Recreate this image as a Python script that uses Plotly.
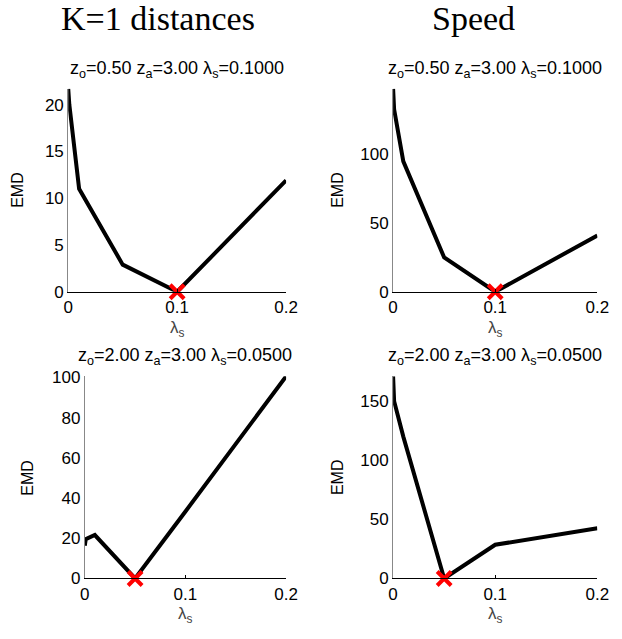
import plotly.graph_objects as go

lam = [0, 0.001, 0.01, 0.05, 0.1, 0.2]
emd_k1_top = [21.7, 20.0, 11.0, 2.9, 0.0, 11.9]
emd_speed_top = [148, 133, 95, 25, 0, 41]
emd_k1_bot = [16.3, 19.5, 21.6, 0.0, 33.3, 100.5]
emd_speed_bot = [171, 150, 120, 0, 28.5, 42.5]
best = [(0.1, 0.0), (0.1, 0.0), (0.05, 0.0), (0.05, 0.0)]
col_titles = ["K=1 distances", "Speed"]
sub_titles = ["z<sub>o</sub>=0.50 z<sub>a</sub>=3.00 λ<sub>s</sub>=0.1000",
              "z<sub>o</sub>=0.50 z<sub>a</sub>=3.00 λ<sub>s</sub>=0.1000",
              "z<sub>o</sub>=2.00 z<sub>a</sub>=3.00 λ<sub>s</sub>=0.0500",
              "z<sub>o</sub>=2.00 z<sub>a</sub>=3.00 λ<sub>s</sub>=0.0500"]
ytick_sets = [[0, 5, 10, 15, 20], [0, 50, 100], [0, 20, 40, 60, 80, 100], [0, 50, 100, 150]]
xticks = [0, 0.1, 0.2]

W, H = 622, 639
series = [emd_k1_top, emd_speed_top, emd_k1_bot, emd_speed_bot]
# pixel boxes (left, right, top, bottom)
boxes = [(65, 289, 83, 292), (399, 609, 83, 292), (82, 289, 379, 587), (399, 609, 379, 587)]
ylab_x = [13, 342, 23, 342]

fig = go.Figure()
font = dict(family="Liberation Sans, Arial", size=17, color="black")
tfont = dict(family="Liberation Sans, Arial", size=18, color="black")
ann = []
for i, ys in enumerate(series):
    n = i + 1
    xa = "x" if n == 1 else f"x{n}"
    ya = "y" if n == 1 else f"y{n}"
    fig.add_trace(go.Scatter(x=lam, y=ys, mode="lines", line=dict(color="black", width=4),
                             xaxis=xa, yaxis=ya, showlegend=False, cliponaxis=False))
    fig.add_trace(go.Scatter(x=[best[i][0]], y=[best[i][1]], mode="markers",
                             marker=dict(symbol="x-thin", size=14, line=dict(color="red", width=4)),
                             xaxis=xa, yaxis=ya, showlegend=False, cliponaxis=False))
    l, r, t, b = boxes[i]
    xk = "xaxis" if n == 1 else f"xaxis{n}"
    yk = "yaxis" if n == 1 else f"yaxis{n}"
    fig.layout[xk] = dict(domain=[l / W, r / W], range=[0, 0.2], tickvals=xticks,
                          ticktext=["0", "0.1", "0.2"], showline=True, linecolor="black",
                          linewidth=1, ticks="inside", ticklen=3, tickcolor="black",
                          showgrid=False, zeroline=False, tickfont=font, anchor=ya)
    fig.layout[yk] = dict(domain=[1 - b / H, 1 - t / H], range=[0, max(ys)], tickvals=ytick_sets[i],
                          showline=True, linecolor="#888888", linewidth=1, ticks="",
                          showgrid=False, zeroline=False, tickfont=font, anchor=xa)
    cx = (l + r) / 2
    ann.append(dict(x=cx / W, y=1 - (t - 20) / H, xref="paper", yref="paper", text=sub_titles[i],
                    showarrow=False, font=tfont, xanchor="center", yanchor="middle"))
    ann.append(dict(x=ylab_x[i] / W, y=1 - ((t + b) / 2) / H, xref="paper", yref="paper", text="EMD",
                    showarrow=False, font=dict(family="Liberation Sans, Arial", size=16, color="black"),
                    textangle=-90, xanchor="center", yanchor="middle"))
    ann.append(dict(x=cx / W, y=1 - (b + 38) / H, xref="paper", yref="paper", text="λ<sub>s</sub>",
                    showarrow=False, font=dict(family="Liberation Sans, Arial", size=17, color="#444444"),
                    xanchor="center", yanchor="middle"))

for txt, cx in zip(col_titles, [157, 482]):
    ann.append(dict(x=cx / W, y=1 - 11 / H, xref="paper", yref="paper", text=txt, showarrow=False,
                    font=dict(family="Liberation Serif", size=34, color="black"),
                    xanchor="center", yanchor="middle"))

fig.update_layout(width=W, height=H, margin=dict(l=0, r=0, t=0, b=0),
                  plot_bgcolor="white", paper_bgcolor="white", annotations=ann)
fig.write_html("out.html")
